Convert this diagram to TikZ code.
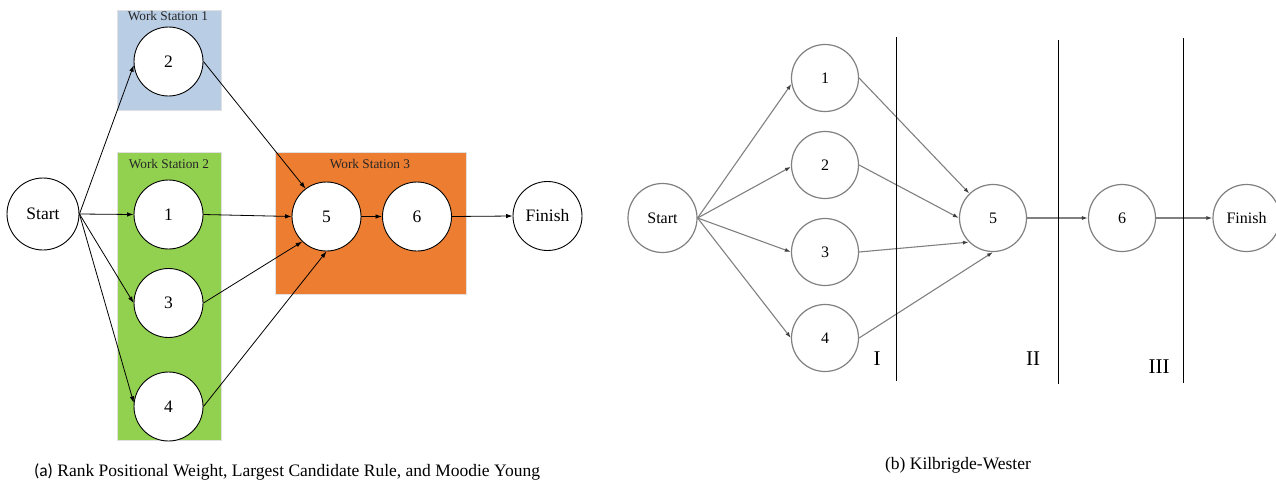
\documentclass[tikz,border=0pt]{standalone}
\usepackage{fontspec}
\setmainfont{Liberation Serif}
\newfontfamily\carl{Carlito}
\usetikzlibrary{arrows.meta}
\definecolor{wsblue}{RGB}{185,205,229}
\definecolor{wsgreen}{RGB}{146,208,80}
\definecolor{wsorange}{RGB}{237,125,49}
\definecolor{kwgray}{RGB}{128,128,128}
\tikzset{
  fs/.style={font=\fontsize{#1}{#1}\selectfont},
  lnode/.style={circle, draw=black, fill=white, line width=0.9pt, minimum size=69pt, inner sep=0pt, fs=17.5},
  rnode/.style={circle, draw=kwgray, fill=white, line width=1.2pt, minimum size=67pt, inner sep=0pt, fs=16},
  larrow/.style={-{Latex[length=6.5pt,width=4.5pt]}, line width=0.8pt, black},
  rarrow/.style={-{Latex[length=6pt,width=4pt,color=black!75]}, line width=1.1pt, kwgray},
  wsbox/.style={draw=black!12, line width=0.8pt},
  wslabel/.style={fs=13.3, text=black!85},
  vline/.style={line width=1pt, black},
  roman/.style={fs=21},
  caption/.style={fs=17.5}
}
\begin{document}
\begin{tikzpicture}[x=1pt,y=-1pt]
\useasboundingbox (0,0) rectangle (1276,482);
% ---------- (a) ----------
\fill[wsblue, wsbox] (117,10) rectangle (221,110);
\fill[wsgreen, wsbox] (117,152) rectangle (221,440);
\fill[wsorange, wsbox] (275,152) rectangle (466,294);
\node[wslabel] (ws1) at (168,16) {Work Station 1};
\node[wslabel] (ws2) at (169,164) {Work Station 2};
\node[wslabel] (ws3) at (370,164) {Work Station 3};

\node[lnode, minimum size=72pt] (ls) at (43,214) {Start};
\node[lnode] (l2) at (168.5,61.5) {2};
\node[lnode] (l1) at (168.5,214.5) {1};
\node[lnode] (l3) at (168.5,303) {3};
\node[lnode] (l4) at (168.5,406.5) {4};
\node[lnode] (l5) at (326.5,216.5) {5};
\node[lnode] (l6) at (417,216.5) {6};
\node[lnode] (lf) at (547.5,216) {Finish};

\draw[larrow] (ls.east) -- (l2.186);
\draw[larrow] (ls.east) -- (l1.west);
\draw[larrow] (ls.east) -- (l3.west);
\draw[larrow] (ls.east) -- (l4.174);
\draw[larrow] (l2.east) -- (l5.127);
\draw[larrow] (l1.east) -- (l5.west);
\draw[larrow] (l3.east) -- (l5.226);
\draw[larrow] (l4.east) -- (l5.south);
\draw[larrow] (l5.east) -- (l6.west);
\draw[larrow] (l6.east) -- (lf.west);

\node[caption] (capa) at (287,472) {{\carl (a)} Rank Positional Weight, Largest Candidate Rule, and Moodie Young};

% ---------- (b) ----------
\node[rnode, minimum size=69pt] (rs) at (662.5,218) {Start};
\node[rnode] (r1) at (825,78) {1};
\node[rnode] (r2) at (825,165) {2};
\node[rnode] (r3) at (825,252) {3};
\node[rnode] (r4) at (825,338) {4};
\node[rnode] (r5) at (993,218) {5};
\node[rnode] (r6) at (1122,218) {6};
\node[rnode] (rf) at (1246.5,218) {Finish};

\draw[rarrow] (rs.east) -- (r1.190);
\draw[rarrow] (rs.east) -- (r2.183);
\draw[rarrow] (rs.east) -- (r3.west);
\draw[rarrow] (rs.east) -- (r4.west);
\draw[rarrow] (r1.east) -- (r5.134);
\draw[rarrow] (r2.east) -- (r5.west);
\draw[rarrow] (r3.east) -- (r5.225);
\draw[rarrow] (r4.east) -- (r5.south);
\draw[rarrow] (r5.east) -- (r6.west);
\draw[rarrow] (r6.east) -- (rf.west);

\coordinate (v1t) at (896.5,37);
\coordinate (v1b) at (896.5,381);
\coordinate (v2t) at (1058,40);
\coordinate (v2b) at (1058,384);
\coordinate (v3t) at (1183.5,38);
\coordinate (v3b) at (1183.5,383);
\draw[vline] (v1t) -- (v1b);
\draw[vline] (v2t) -- (v2b);
\draw[vline] (v3t) -- (v3b);
\node[roman] (rI) at (877,359) {I};
\node[roman] (rII) at (1033,359) {II};
\node[roman] (rIII) at (1159,367) {III};

\node[caption] (capb) at (958,465) {(b) Kilbrigde-Wester};
\end{tikzpicture}
\end{document}
